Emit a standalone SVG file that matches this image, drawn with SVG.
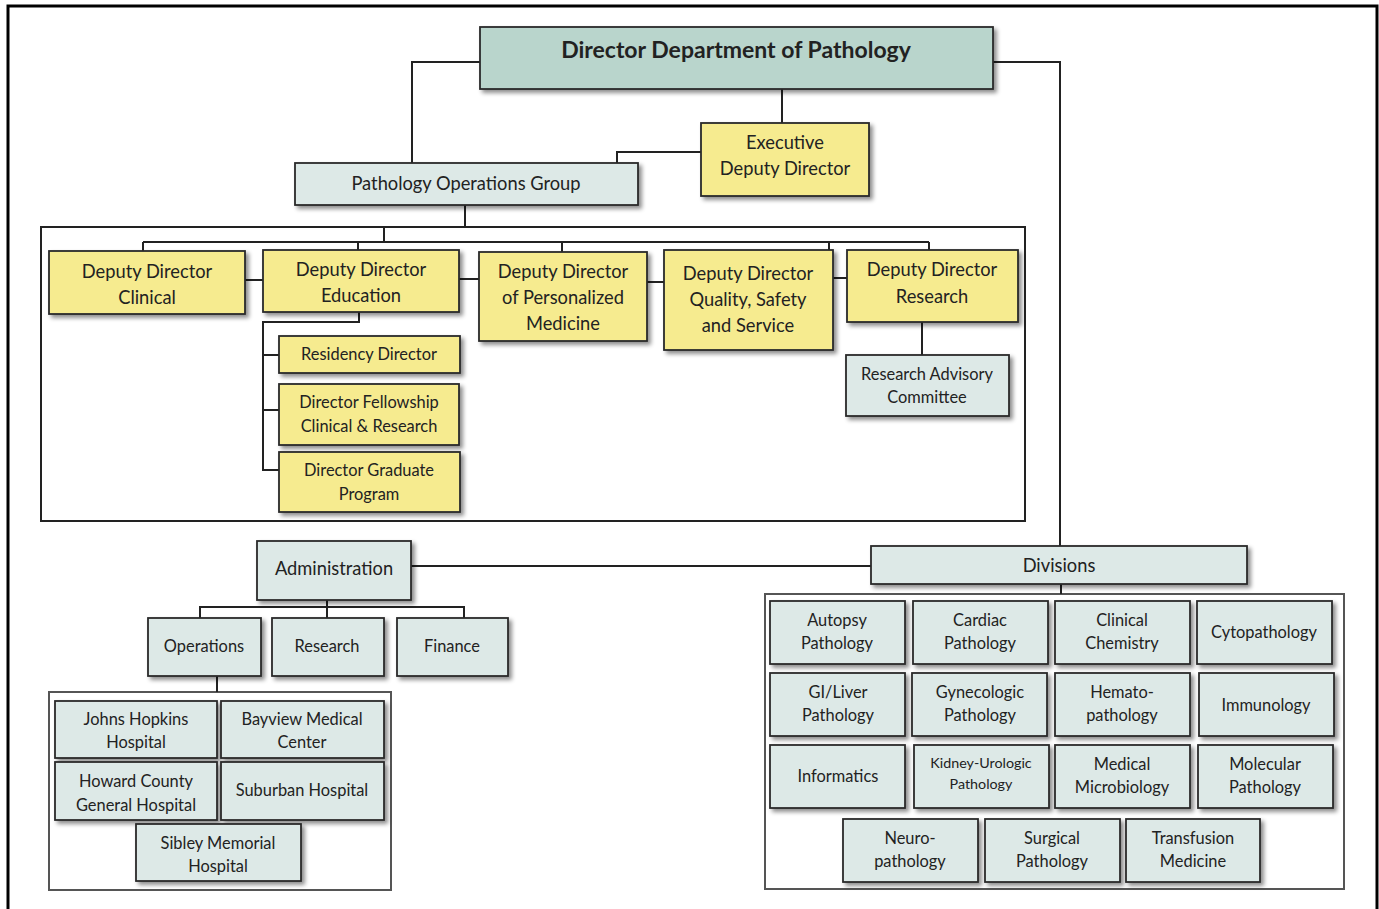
<svg xmlns="http://www.w3.org/2000/svg" width="1379" height="909" viewBox="0 0 1379 909">
  <defs>
    <filter id="shadow" x="-10%" y="-10%" width="130%" height="140%">
      <feDropShadow dx="3" dy="3" stdDeviation="2.2" flood-color="#000" flood-opacity="0.45"/>
    </filter>
    <style>
      .box { stroke: #2b2b2b; stroke-width: 1.8; filter: url(#shadow); }
      .dir { fill: #b9d5cc; }
      .yel { fill: #f6eb8f; }
      .lt { fill: #dde9e7; }
      .frame { fill: none; stroke: #222; stroke-width: 2; }
      .frame2 { fill: none; stroke: #555; stroke-width: 2; }
      .conn line, .conn polyline { fill: none; stroke: #222; stroke-width: 2; }
      text { font-family: Lato, "Open Sans", sans-serif; fill: #222; text-anchor: middle; font-size: 16px; }
      .t17 { font-size: 18.3px; }
      .t15 { font-size: 16.4px; }
      .t13 { font-size: 14.3px; }
      .title { font-size: 23px; font-weight: bold; }
    </style>
  </defs>
  <rect width="1379" height="909" fill="#fff"/>

  <!-- page border -->
  <polyline points="8,909 8,6 1377,6 1377,909" fill="none" stroke="#000" stroke-width="3"/>

  <!-- group frames -->
  <rect class="frame" x="41" y="227" width="984" height="294"/>
  <rect class="frame2" x="49" y="692" width="342" height="198"/>
  <rect class="frame2" x="765" y="594" width="579" height="295"/>

  <!-- connectors -->
  <g class="conn">
    <polyline points="480,62 412,62 412,163"/>
    <polyline points="993,62 1060,62 1060,546"/>
    <line x1="782" y1="89" x2="782" y2="123"/>
    <polyline points="701,152 617,152 617,163"/>
    <line x1="465" y1="205" x2="465" y2="227"/>
    <line x1="384" y1="227" x2="384" y2="242"/>
    <line x1="143" y1="242" x2="929" y2="242"/>
    <line x1="143" y1="242" x2="143" y2="251"/>
    <line x1="358" y1="242" x2="358" y2="250"/>
    <line x1="562" y1="242" x2="562" y2="252"/>
    <line x1="829" y1="242" x2="829" y2="250"/>
    <line x1="929" y1="242" x2="929" y2="250"/>
    <line x1="245" y1="280" x2="263" y2="280"/>
    <line x1="459" y1="279" x2="479" y2="279"/>
    <line x1="647" y1="282" x2="664" y2="282"/>
    <line x1="833" y1="278" x2="847" y2="278"/>
    <polyline points="359,312 359,322 263,322 263,470 279,470"/>
    <line x1="263" y1="355" x2="279" y2="355"/>
    <line x1="263" y1="410" x2="279" y2="410"/>
    <line x1="922" y1="322" x2="922" y2="355"/>
    <line x1="411" y1="566" x2="871" y2="566"/>
    <line x1="327" y1="600" x2="327" y2="618"/>
    <polyline points="200,618 200,607 464,607 464,618"/>
    <line x1="217" y1="676" x2="217" y2="692"/>
    <line x1="1061" y1="584" x2="1061" y2="594"/>
  </g>

  <!-- top level -->
  <g id="director">
    <rect class="box dir" x="480" y="27" width="513" height="62"/>
    <text class="title" x="736" y="58">Director Department of Pathology</text>
  </g>
  <g id="executive-deputy">
    <rect class="box yel" x="701" y="123" width="168" height="73"/>
    <text class="t17" x="785" y="149">Executive</text>
    <text class="t17" x="785" y="175">Deputy Director</text>
  </g>
  <g id="operations-group">
    <rect class="box lt" x="295" y="163" width="343" height="42"/>
    <text class="t17" x="466" y="190">Pathology Operations Group</text>
  </g>

  <!-- deputy directors -->
  <g id="dd-clinical">
    <rect class="box yel" x="49" y="251" width="196" height="63"/>
    <text class="t17" x="147" y="278">Deputy Director</text>
    <text class="t17" x="147" y="304">Clinical</text>
  </g>
  <g id="dd-education">
    <rect class="box yel" x="263" y="250" width="196" height="62"/>
    <text class="t17" x="361" y="276">Deputy Director</text>
    <text class="t17" x="361" y="302">Education</text>
  </g>
  <g id="dd-personalized">
    <rect class="box yel" x="479" y="252" width="168" height="89"/>
    <text class="t17" x="563" y="278">Deputy Director</text>
    <text class="t17" x="563" y="304">of Personalized</text>
    <text class="t17" x="563" y="330">Medicine</text>
  </g>
  <g id="dd-quality">
    <rect class="box yel" x="664" y="250" width="169" height="100"/>
    <text class="t17" x="748" y="280">Deputy Director</text>
    <text class="t17" x="748" y="306">Quality, Safety</text>
    <text class="t17" x="748" y="332">and Service</text>
  </g>
  <g id="dd-research">
    <rect class="box yel" x="847" y="250" width="171" height="72"/>
    <text class="t17" x="932" y="276">Deputy Director</text>
    <text class="t17" x="932" y="303">Research</text>
  </g>
  <g id="research-advisory">
    <rect class="box lt" x="846" y="355" width="163" height="61"/>
    <text class="t15" x="927" y="380">Research Advisory</text>
    <text class="t15" x="927" y="403">Committee</text>
  </g>
  <g id="residency">
    <rect class="box yel" x="279" y="336" width="181" height="37"/>
    <text class="t15" x="369" y="360">Residency Director</text>
  </g>
  <g id="fellowship">
    <rect class="box yel" x="279" y="384" width="180" height="61"/>
    <text class="t15" x="369" y="408">Director Fellowship</text>
    <text class="t15" x="369" y="432">Clinical &amp; Research</text>
  </g>
  <g id="graduate">
    <rect class="box yel" x="279" y="452" width="181" height="60"/>
    <text class="t15" x="369" y="476">Director Graduate</text>
    <text class="t15" x="369" y="500">Program</text>
  </g>

  <!-- administration -->
  <g id="administration">
    <rect class="box lt" x="257" y="541" width="154" height="59"/>
    <text class="t17" x="334" y="575">Administration</text>
  </g>
  <g id="adm-operations">
    <rect class="box lt" x="148" y="618" width="113" height="58"/>
    <text class="t15" x="204" y="652">Operations</text>
  </g>
  <g id="adm-research">
    <rect class="box lt" x="272" y="618" width="112" height="58"/>
    <text class="t15" x="327" y="652">Research</text>
  </g>
  <g id="adm-finance">
    <rect class="box lt" x="397" y="618" width="111" height="58"/>
    <text class="t15" x="452" y="652">Finance</text>
  </g>
  <g id="johns-hopkins">
    <rect class="box lt" x="55" y="701" width="162" height="57"/>
    <text class="t15" x="136" y="725">Johns Hopkins</text>
    <text class="t15" x="136" y="748">Hospital</text>
  </g>
  <g id="bayview">
    <rect class="box lt" x="221" y="701" width="163" height="57"/>
    <text class="t15" x="302" y="725">Bayview Medical</text>
    <text class="t15" x="302" y="748">Center</text>
  </g>
  <g id="howard-county">
    <rect class="box lt" x="55" y="762" width="162" height="58"/>
    <text class="t15" x="136" y="787">Howard County</text>
    <text class="t15" x="136" y="811">General Hospital</text>
  </g>
  <g id="suburban">
    <rect class="box lt" x="221" y="762" width="163" height="58"/>
    <text class="t15" x="302" y="796">Suburban Hospital</text>
  </g>
  <g id="sibley">
    <rect class="box lt" x="136" y="824" width="165" height="57"/>
    <text class="t15" x="218" y="849">Sibley Memorial</text>
    <text class="t15" x="218" y="872">Hospital</text>
  </g>

  <!-- divisions -->
  <g id="divisions">
    <rect class="box lt" x="871" y="546" width="376" height="38"/>
    <text class="t17" x="1059" y="572">Divisions</text>
  </g>
  <g id="autopsy">
    <rect class="box lt" x="770" y="601" width="135" height="63"/>
    <text class="t15" x="837" y="626">Autopsy</text>
    <text class="t15" x="837" y="649">Pathology</text>
  </g>
  <g id="cardiac">
    <rect class="box lt" x="913" y="601" width="135" height="63"/>
    <text class="t15" x="980" y="626">Cardiac</text>
    <text class="t15" x="980" y="649">Pathology</text>
  </g>
  <g id="clinical-chemistry">
    <rect class="box lt" x="1055" y="601" width="135" height="63"/>
    <text class="t15" x="1122" y="626">Clinical</text>
    <text class="t15" x="1122" y="649">Chemistry</text>
  </g>
  <g id="cytopathology">
    <rect class="box lt" x="1197" y="601" width="135" height="63"/>
    <text class="t15" x="1264" y="638">Cytopathology</text>
  </g>
  <g id="gi-liver">
    <rect class="box lt" x="770" y="673" width="135" height="63"/>
    <text class="t15" x="838" y="698">GI/Liver</text>
    <text class="t15" x="838" y="721">Pathology</text>
  </g>
  <g id="gynecologic">
    <rect class="box lt" x="912" y="673" width="135" height="63"/>
    <text class="t15" x="980" y="698">Gynecologic</text>
    <text class="t15" x="980" y="721">Pathology</text>
  </g>
  <g id="hematopathology">
    <rect class="box lt" x="1055" y="673" width="135" height="63"/>
    <text class="t15" x="1122" y="698">Hemato-</text>
    <text class="t15" x="1122" y="721">pathology</text>
  </g>
  <g id="immunology">
    <rect class="box lt" x="1199" y="673" width="135" height="63"/>
    <text class="t15" x="1266" y="711">Immunology</text>
  </g>
  <g id="informatics">
    <rect class="box lt" x="770" y="745" width="135" height="63"/>
    <text class="t15" x="838" y="782">Informatics</text>
  </g>
  <g id="kidney-urologic">
    <rect class="box lt" x="914" y="745" width="135" height="63"/>
    <text class="t13" x="981" y="768">Kidney-Urologic</text>
    <text class="t13" x="981" y="789">Pathology</text>
  </g>
  <g id="medical-microbiology">
    <rect class="box lt" x="1055" y="745" width="135" height="63"/>
    <text class="t15" x="1122" y="770">Medical</text>
    <text class="t15" x="1122" y="793">Microbiology</text>
  </g>
  <g id="molecular">
    <rect class="box lt" x="1198" y="745" width="135" height="63"/>
    <text class="t15" x="1265" y="770">Molecular</text>
    <text class="t15" x="1265" y="793">Pathology</text>
  </g>
  <g id="neuropathology">
    <rect class="box lt" x="843" y="819" width="135" height="63"/>
    <text class="t15" x="910" y="844">Neuro-</text>
    <text class="t15" x="910" y="867">pathology</text>
  </g>
  <g id="surgical">
    <rect class="box lt" x="985" y="819" width="135" height="63"/>
    <text class="t15" x="1052" y="844">Surgical</text>
    <text class="t15" x="1052" y="867">Pathology</text>
  </g>
  <g id="transfusion">
    <rect class="box lt" x="1126" y="819" width="134" height="63"/>
    <text class="t15" x="1193" y="844">Transfusion</text>
    <text class="t15" x="1193" y="867">Medicine</text>
  </g>
</svg>
